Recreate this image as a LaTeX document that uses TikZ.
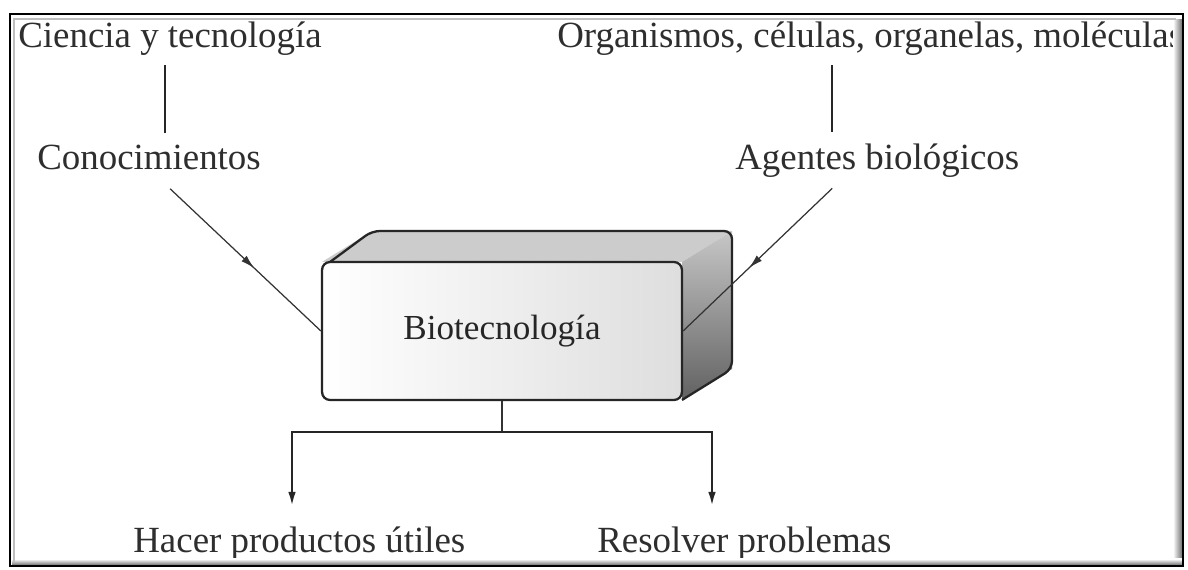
\documentclass[tikz,border=0pt]{standalone}
\usepackage{fontspec}
\setmainfont{Liberation Serif}
\usetikzlibrary{arrows.meta,decorations.markings,backgrounds}

\begin{document}
\begin{tikzpicture}[x=0.02cm,y=-0.02cm,
		label/.style={inner sep=0pt,anchor=base west,text=black!82,font=\fontsize{21}{25}\selectfont},
		stem/.style={line width=1.3pt,black!85,shorten <=0.18cm,shorten >=0.24cm},
		feed/.style={line width=0.7pt,black!80,postaction={decorate},
			decoration={markings,mark=at position 0.56 with {\arrow{Latex[length=0.28cm,width=0.15cm]}}}},
		core/.style={draw=black!85,line width=1.3pt,rounded corners=0.16cm,left color=white,right color=black!13,
			minimum width=7.2cm,minimum height=2.76cm,text=black!85,font=\fontsize{20}{24}\selectfont},
		split/.style={line width=1.3pt,black!85},
		trunk/.style={line width=0.8pt,black!80},
		outtip/.style={-{Latex[length=0.28cm,width=0.15cm]}}]
	\useasboundingbox (0,0) rectangle (1188,570);

	\node[label] (ciencia) at (18,48) {Ciencia y tecnología};
	\node[label] (conoc) at (37,170) {Conocimientos};
	\node[label] (organ) at (557,48) {Organismos, células, organelas, moléculas};
	\node[label] (agentes) at (735,170) {Agentes biológicos};
	\node[label] (hacer) at (133,553) {Hacer productos útiles};
	\node[label] (resolver) at (597,553) {Resolver problemas};

	\node[core] (box) at (502,331) {Biotecnología};
	\begin{scope}[on background layer]
		\fill[white] (0,0) rectangle (1188,570);
		\fill[black!20] (322,262) -- (372,231) -- (732,231) -- (682,262) -- cycle;
		\shade[top color=black!22,bottom color=black!62] (682,262) -- (732,231) -- (732,369) -- (682,400) -- cycle;
		\draw[black!85,line width=1.3pt,rounded corners=0.16cm] (330,262) -- (372,231) -- (732,231) -- (732,369) -- (682,400);
	\end{scope}

	\draw[stem] (ciencia.south -| 165,0) -- (conoc.north -| 165,0);
	\draw[stem] (organ.south -| 832,0) -- (agentes.north -| 832,0);
	\draw[feed] (conoc.south) ++(21,18) -- (box.west);
	\draw[feed] (agentes.south) ++(-45,10) -- (box.east);

	\coordinate (fork) at (502,432);
	\coordinate (out1) at (292,506);
	\coordinate (out2) at (712,506);
	\draw[trunk] (box.south) -- (fork);
	\draw[split,outtip] (fork) -| (out1);
	\draw[split,outtip] (fork) -| (out2);

	\shade[left color=white,right color=black!55] (1173,20) rectangle (1182,565);
	\shade[top color=white,bottom color=black!55] (12,559) rectangle (1182,565);
	\draw[black!25,line width=0.6pt] (14,562) |- (1176,19);
	\draw[black,line width=1.3pt] (10,14) rectangle (1183,566);
\end{tikzpicture}
\end{document}
